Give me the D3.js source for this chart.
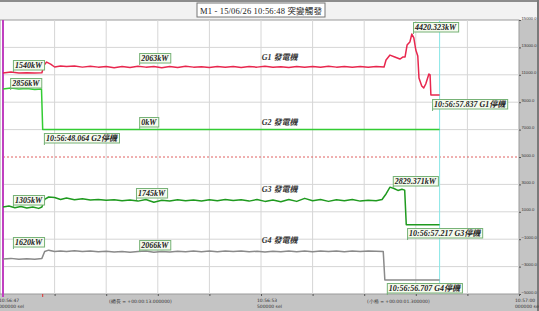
<!DOCTYPE html>
<html>
<head>
<meta charset="utf-8">
<script src="https://cdn.jsdelivr.net/npm/d3@7/dist/d3.min.js"></script>
<style>
  body { margin: 0; background: #fff; }
  svg { display: block; }
  .note text, .name { font-family: "Liberation Serif", "Noto Sans CJK TC", serif; font-weight: bold; font-style: italic; }
  .tiny { font-family: "DejaVu Sans", sans-serif; font-size: 4.5px; fill: #333; }
  .ylab { font-family: "Liberation Sans", sans-serif; font-size: 4.2px; fill: #333; }
</style>
</head>
<body>
<div id="chart"></div>
<script>
// time = seconds after 10:56:47, value = position on the display scale
const g1 = [[0,11130],[0.2,11200],[0.4,11130],[0.6,11150],[0.8,11130],[0.98,11150],[1.03,11700],[1.1,11930],[1.2,11780],[1.3,11570],[1.45,11650],[1.6,11600],[1.8,11640],[2.0,11560],[2.2,11620],[2.4,11560],[2.6,11600],[2.8,11520],[3.0,11600],[3.2,11540],[3.4,11620],[3.6,11560],[3.8,11600],[4.0,11520],[4.2,11600],[4.4,11540],[4.6,11620],[4.8,11560],[5.0,11590],[5.2,11530],[5.4,11600],[5.6,11560],[5.8,11610],[6.0,11540],[6.2,11600],[6.4,11560],[6.6,11620],[6.8,11550],[7.0,11590],[7.2,11530],[7.4,11610],[7.6,11560],[7.8,11600],[8.0,11550],[8.2,11620],[8.4,11560],[8.6,11600],[8.8,11560],[9.0,11610],[9.2,11560],[9.4,11600],[9.6,11570],[9.65,12080],[9.75,12440],[9.87,12300],[10.0,12150],[10.08,12300],[10.13,12300],[10.18,13170],[10.25,13390],[10.30,13980],[10.35,13690],[10.40,12810],[10.45,12370],[10.48,10770],[10.55,10180],[10.60,10040],[10.65,10330],[10.73,11060],[10.76,10990],[10.78,9530],[11.0,9530]];
const g2 = [[0,9960],[0.2,10040],[0.4,9960],[0.6,10000],[0.8,9930],[0.97,9960],[1.0,7000],[11.0,7000]];
const g3 = [[0,1350],[0.15,1420],[0.3,1300],[0.45,1380],[0.6,1280],[0.75,1350],[0.9,1250],[0.98,1350],[1.05,1900],[1.15,2080],[1.3,2040],[1.45,1900],[1.6,2000],[1.8,1880],[2.0,1960],[2.2,1860],[2.4,1900],[2.6,1840],[2.8,1880],[3.0,1800],[3.2,1860],[3.4,1780],[3.6,1900],[3.8,1700],[4.0,1840],[4.2,1790],[4.4,1880],[4.6,1800],[4.8,1860],[5.0,1780],[5.2,1880],[5.4,1800],[5.6,1900],[5.8,1820],[6.0,1880],[6.2,1780],[6.4,1900],[6.6,1760],[6.8,1860],[7.0,1740],[7.2,1900],[7.4,1760],[7.6,1980],[7.8,1800],[8.0,1900],[8.2,1760],[8.4,1880],[8.6,1800],[8.8,1900],[9.0,1780],[9.2,1840],[9.4,1800],[9.55,1900],[9.65,2300],[9.75,2800],[9.85,2700],[9.95,2560],[10.05,2640],[10.12,2580],[10.16,60],[11.0,60]];
const g4 = [[0,-2450],[0.2,-2400],[0.4,-2470],[0.6,-2420],[0.8,-2460],[0.98,-2400],[1.05,-1900],[1.15,-1800],[1.3,-1900],[1.45,-1870],[1.6,-1900],[1.8,-1850],[2.0,-1900],[2.2,-1860],[2.4,-1920],[2.6,-1880],[2.8,-1940],[3.0,-1900],[3.2,-1960],[3.4,-1900],[3.6,-1860],[3.8,-1960],[4.0,-1900],[4.2,-1940],[4.4,-1880],[4.6,-1920],[4.8,-1870],[5.0,-1910],[5.2,-1860],[5.4,-1920],[5.6,-1870],[5.8,-1900],[6.0,-1860],[6.2,-1920],[6.4,-1880],[6.6,-1940],[6.8,-1880],[7.0,-1920],[7.2,-1870],[7.4,-1910],[7.6,-1860],[7.8,-1920],[8.0,-1870],[8.2,-1900],[8.4,-1860],[8.6,-1920],[8.8,-1870],[9.0,-1900],[9.2,-1860],[9.4,-1880],[9.58,-1900],[9.62,-3980],[11.0,-3980]];

const yTicks = [15000, 13000, 11000, 9000, 7000, 5000, 3000, 1000, -1000, -3000, -5000];
const timeTicks = [0, 1.3, 2.6, 3.9, 5.2, 6.5, 7.8, 9.1, 10.4, 11.7, 13];
const timeLabels = [[0, "10:56:47", "000000 sel"], [6.5, "10:56:53", "500000 sel"], [13, "10:57:00", "000000 sel"]];
const spanLabels = [[2.67, "(總長 = +00:00:13.000000)"], [9.17, "(小格 = +00:00:01.300000)"]];
const title = "M1 - 15/06/26 10:56:48 突變觸發";
const triggerTime = 1.0;
const cursorTime = 11.0;

const names = [["G1 發電機", 12080], ["G2 發電機", 7335], ["G3 發電機", 2444], ["G4 發電機", -1279]];
const nameTime = 6.52;

// boxed notes: text, time, value at top-left of box
const notes = [
  ["1540kW", 0.25, 12080], ["2063kW", 3.43, 12590], ["4420.323kW", 10.33, 14854], ["10:56:57.837 G1停機", 10.81, 9233],
  ["2856kW", 0.18, 10766], ["0kW", 3.43, 7919], ["10:56:48.064 G2停機", 1.03, 6751],
  ["1305kW", 0.25, 2225], ["1745kW", 3.35, 2736], ["2829.371kW", 9.82, 3612], ["10:56:57.217 G3停機", 10.18, -184],
  ["1620kW", 0.25, -841], ["2066kW", 3.43, -1060], ["10:56:56.707 G4停機", 9.67, -4199]
];

const W = 539, H = 311;
const plot = {left: 3, right: 519, top: 20, bottom: 294};

const svg = d3.select("#chart").append("svg")
    .attr("width", W)
    .attr("height", H);

// window chrome
svg.append("rect").attr("width", W).attr("height", H).attr("fill", "#c4c4c4");
svg.append("rect").attr("width", W).attr("height", plot.top).attr("fill", "#f2f2f2");
svg.append("rect").attr("width", W).attr("height", 2).attr("fill", "#8c8c8c");
svg.append("rect").attr("x", W - 2).attr("width", 2).attr("height", H).attr("fill", "#7a7a7a");
svg.append("rect")
    .attr("x", 0).attr("y", plot.top)
    .attr("width", plot.right).attr("height", plot.bottom - plot.top)
    .attr("fill", "#fff").attr("stroke", "#9a9a9a");

const x = d3.scaleLinear().domain([0, 13]).range([plot.left, plot.right]);
const y = d3.scaleLinear().domain([-5000, 15000]).range([plot.bottom, plot.top]);

// grid
svg.append("g").selectAll("line")
  .data(timeTicks.slice(1, -1))
  .join("line")
    .attr("x1", d => x(d)).attr("x2", d => x(d))
    .attr("y1", plot.top).attr("y2", plot.bottom)
    .attr("stroke", "#d6d6d6");

svg.append("g").selectAll("line")
  .data(yTicks.filter(d => d !== 5000 && d !== 15000 && d !== -5000))
  .join("line")
    .attr("x1", plot.left).attr("x2", plot.right)
    .attr("y1", d => y(d)).attr("y2", d => y(d))
    .attr("stroke", "#d6d6d6");

svg.append("line")
    .attr("x1", plot.left).attr("x2", plot.right)
    .attr("y1", y(5000)).attr("y2", y(5000))
    .attr("stroke", "#e06060").attr("stroke-dasharray", "2,2");

// cursor
svg.append("line")
    .attr("x1", x(cursorTime)).attr("x2", x(cursorTime))
    .attr("y1", plot.top).attr("y2", plot.bottom)
    .attr("stroke", "#86e6e6");

// axes
const yAxis = svg.append("g")
    .attr("transform", `translate(${plot.right},0)`)
    .call(d3.axisRight(y).tickValues(yTicks).tickSize(2).tickPadding(0.5).tickFormat(d3.format(".1f")));
yAxis.select(".domain").remove();
yAxis.selectAll("text").attr("class", "ylab").attr("font-size", null).attr("font-family", null).attr("dy", "-0.2em");
yAxis.selectAll("line").attr("stroke", "#555");

const xAxis = svg.append("g")
    .attr("transform", `translate(0,${plot.bottom})`)
    .call(d3.axisBottom(x).tickValues(timeTicks).tickSize(2).tickFormat(""));
xAxis.select(".domain").remove();
xAxis.selectAll("line").attr("stroke", "#555");

svg.append("line")
    .attr("x1", x(triggerTime)).attr("x2", x(triggerTime))
    .attr("y1", plot.bottom).attr("y2", plot.bottom + 3)
    .attr("stroke", "#e03030");

const tl = svg.append("g").selectAll("text")
  .data(timeLabels)
  .join("text")
    .attr("class", "tiny")
    .attr("y", plot.bottom + 8);
tl.append("tspan").attr("x", d => Math.min(x(d[0]) - 4, W - 18)).text(d => d[1]);
tl.append("tspan").attr("x", d => Math.min(x(d[0]) - 4, W - 18)).attr("dy", 6).text(d => d[2]);

svg.append("g").selectAll("text")
  .data(spanLabels)
  .join("text")
    .attr("class", "tiny")
    .attr("font-size", 4)
    .attr("x", d => x(d[0]))
    .attr("y", plot.bottom + 9)
    .text(d => d[1]);

svg.append("line")
    .attr("x1", x(0)).attr("x2", x(0))
    .attr("y1", plot.top).attr("y2", plot.bottom + 3)
    .attr("stroke", "#c040c0").attr("stroke-width", 2);

// series
const line = d3.line().x(d => x(d[0])).y(d => y(d[1]));
const series = [[g1, "#e8274e"], [g2, "#33cc33"], [g3, "#1f9a1f"], [g4, "#8a8a8a"]];
svg.append("g").selectAll("path")
  .data(series)
  .join("path")
    .attr("d", d => line(d[0]))
    .attr("fill", "none")
    .attr("stroke", d => d[1])
    .attr("stroke-width", 1.5)
    .attr("stroke-linejoin", "round");

// series names
svg.append("g").selectAll("text")
  .data(names)
  .join("text")
    .attr("class", "name")
    .attr("x", x(nameTime))
    .attr("y", d => y(d[1]))
    .attr("font-size", 8)
    .attr("fill", "#333")
    .text(d => d[0]);

// boxed notes
const note = svg.append("g").selectAll("g")
  .data(notes)
  .join("g")
    .attr("class", "note")
    .attr("transform", d => `translate(${x(d[1])},${y(d[2])})`);
note.append("text")
    .attr("x", 2).attr("y", 8)
    .attr("font-size", 8)
    .attr("fill", "#222")
    .text(d => d[0]);
note.each(function() {
  const g = d3.select(this);
  const w = g.select("text").node().getComputedTextLength();
  g.insert("rect", "text")
      .attr("x", 0.5).attr("y", 0.5)
      .attr("width", w + 4).attr("height", 9.5)
      .attr("fill", "#f5faee").attr("stroke", "#76b276");
  g.append("line")
      .attr("x1", 0.5).attr("x2", 0.5).attr("y1", 10).attr("y2", 12)
      .attr("stroke", "#76b276");
});

// title box
const tb = svg.append("g").attr("transform", "translate(197,3)");
tb.append("rect").attr("width", 128).attr("height", 14).attr("fill", "#fff").attr("stroke", "#777");
tb.append("text")
    .attr("x", 3).attr("y", 10.5)
    .attr("font-family", "'Liberation Serif', 'Noto Sans CJK TC', serif")
    .attr("font-size", 8.5)
    .attr("fill", "#222")
    .attr("textLength", 122).attr("lengthAdjust", "spacing")
    .text(title);
</script>
</body>
</html>
